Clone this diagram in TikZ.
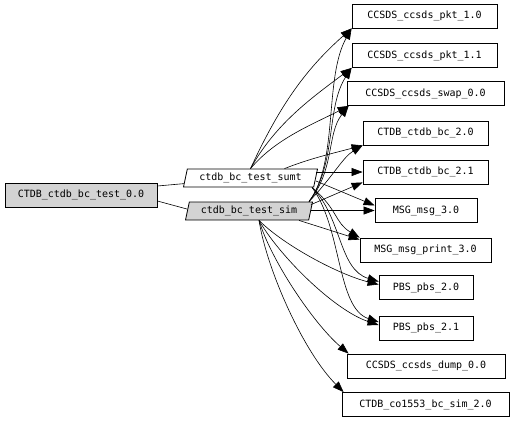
\documentclass[tikz,border=0pt]{standalone}
\usepackage{fontspec}
\setmonofont{DejaVu Sans Mono}
\usetikzlibrary{shapes.geometric, arrows.meta, calc}
\definecolor{fillgray}{HTML}{D3D3D3}

\begin{document}
\begin{tikzpicture}[
    x=1pt, y=1pt,
    box/.style={draw, line width=0.8pt, minimum height=24pt, inner sep=0pt, fill=white, font=\ttfamily\fontsize{10}{12}\selectfont},
    para/.style={trapezium, trapezium left angle=69, trapezium right angle=111, trapezium stretches body, draw, line width=0.8pt, minimum height=18pt, inner sep=0pt, font=\ttfamily\fontsize{10}{12}\selectfont},
    dep/.style={-{Triangle[length=11pt, width=8pt]}, line width=0.6pt},
    link/.style={line width=0.6pt},
]
\useasboundingbox (0,0) rectangle (514,-421);

\node[box, fill=fillgray, minimum width=152pt] (root) at (81,-195) {CTDB\_ctdb\_bc\_test\_0.0};
\node[para, minimum width=134pt] (sumt) at (250.5,-178) {ctdb\_bc\_test\_sumt};
\node[para, fill=fillgray, minimum width=127pt] (sim) at (249,-211) {ctdb\_bc\_test\_sim};

\node[box, minimum width=145pt] (pkta) at (424.5,-16) {CCSDS\_ccsds\_pkt\_1.0};
\node[box, minimum width=145pt] (pktb) at (424.5,-55.5) {CCSDS\_ccsds\_pkt\_1.1};
\node[box, minimum width=157pt] (swap) at (425.5,-93.5) {CCSDS\_ccsds\_swap\_0.0};
\node[box, minimum width=125pt] (bca) at (425.5,-133) {CTDB\_ctdb\_bc\_2.0};
\node[box, minimum width=125pt] (bcb) at (425.5,-172) {CTDB\_ctdb\_bc\_2.1};
\node[box, minimum width=102pt] (msg) at (426,-210.5) {MSG\_msg\_3.0};
\node[box, minimum width=131pt] (msgprint) at (425.5,-250) {MSG\_msg\_print\_3.0};
\node[box, minimum width=94pt] (pbsa) at (426,-287.5) {PBS\_pbs\_2.0};
\node[box, minimum width=94pt] (pbsb) at (426,-328) {PBS\_pbs\_2.1};
\node[box, minimum width=158pt] (dump) at (426,-366) {CCSDS\_ccsds\_dump\_0.0};
\node[box, minimum width=167pt] (bcsim) at (425.5,-404.5) {CTDB\_co1553\_bc\_sim\_2.0};

% root to the two sources
\draw[link] ($(root.east)+(0,9)$) -- ($(sumt.bottom left corner)!0.2!(sumt.top left corner)$);
\draw[link] ($(root.east)+(0,-6)$) -- ($(sim.bottom left corner)!0.6!(sim.top left corner)$);

% sumt, from its top
\draw[dep] (sumt.north) .. controls +(30,65) and +(-45,-40) .. (pkta.south west);
\draw[dep] (sumt.north) .. controls +(25,45) and +(-40,-30) .. (pktb.south west);
\draw[dep] (sumt.north) .. controls +(25,30) and +(-35,-18) .. ($(swap.south west)+(2,0)$);
\draw[dep] ($(sumt.north)+(34,0)$) .. controls +(25,10) and +(-30,-8) .. (bca.south west);
% sumt, from its right end
\draw[dep] (sumt.east |- bcb.west) -- (bcb.west);
\draw[dep] ($(sumt.east)+(0,-3)$) -- ($(msg.west)+(0,5)$);
\draw[dep] ($(sumt.bottom right corner)+(-2,0)$) .. controls +(26,-22) and +(-25,15) .. (msgprint.north west);
\draw[dep] ($(sumt.bottom right corner)+(-2,0)$) .. controls +(30,-30) and +(-40,12) .. ($(pbsa.west)+(0,6)$);
\draw[dep] ($(sumt.bottom right corner)+(-2,0)$) .. controls +(30,-40) and +(-42,14) .. ($(pbsb.west)+(0,6)$);

% sim, from its right end
\draw[dep] ($(sim.top right corner)+(-4,0)$) .. controls +(30,40) and +(-28,-50) .. (pkta.south west);
\draw[dep] ($(sim.top right corner)+(-4,0)$) .. controls +(28,38) and +(-26,-40) .. (pktb.south west);
\draw[dep] ($(sim.top right corner)+(-4,0)$) .. controls +(26,32) and +(-22,-28) .. ($(swap.south west)+(2,0)$);
\draw[dep] ($(sim.top right corner)+(-4,0)$) .. controls +(24,25) and +(-20,-12) .. (bca.south west);
\draw[dep] ($(sim.top right corner)+(-2,-3)$) -- ($(bcb.south west)+(0,2)$);
\draw[dep] (sim.east |- msg.west) -- (msg.west);
% sim, from its bottom
\draw[dep] ($(sim.bottom right corner)+(-10,0)$) -- ($(msgprint.north west)+(0,-2)$);
\draw[dep] ($(sim.south)+(10,0)$) .. controls +(25,-25) and +(-40,10) .. ($(pbsa.west)+(0,3)$);
\draw[dep] ($(sim.south)+(10,0)$) .. controls +(20,-35) and +(-45,15) .. ($(pbsb.west)+(0,3)$);
\draw[dep] ($(sim.south)+(10,0)$) .. controls +(12,-40) and +(-35,30) .. ($(dump.north west)+(2,0)$);
\draw[dep] ($(sim.south)+(10,0)$) .. controls +(8,-50) and +(-40,40) .. ($(bcsim.north west)+(2,0)$);

\end{tikzpicture}
\end{document}
